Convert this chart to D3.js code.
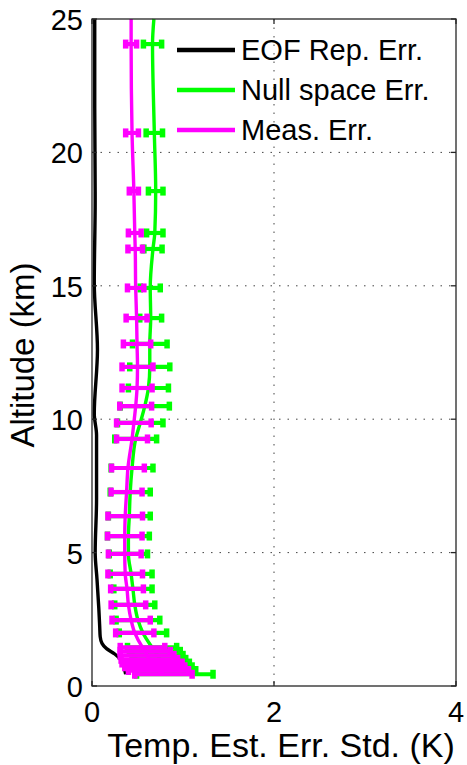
<!DOCTYPE html>
<html>
<head>
<meta charset="utf-8">
<script src="https://cdn.jsdelivr.net/npm/d3@7"></script>
<style>
  html, body { margin: 0; padding: 0; background: #fff; }
  svg { display: block; font-family: "Liberation Sans", Arial, sans-serif; }
</style>
</head>
<body>
<svg id="chart" width="467" height="765"></svg>
<script>
// Altitude levels (km) of the profile; the first one (25 km) carries no error bar
const levels = [25, 24.06, 20.73, 18.55, 16.98, 16.38, 14.92, 13.79, 12.82, 11.96, 11.17,
  10.49, 9.86, 9.26, 8.17, 7.27, 6.37, 5.62, 4.95, 4.20, 3.64, 3.04, 2.47, 1.99,
  1.45, 1.30, 1.15, 1.00, 0.86, 0.72, 0.58, 0.44];

// Null space error: mean std (K) and half-width of its spread
const nullErr = [0.68, 0.665, 0.685, 0.70, 0.69, 0.67, 0.64, 0.645, 0.635, 0.635, 0.62,
  0.58, 0.53, 0.48, 0.44, 0.42, 0.41, 0.40, 0.40, 0.43, 0.45, 0.47, 0.505, 0.56,
  0.66, 0.69, 0.72, 0.75, 0.78, 0.81, 0.85, 0.91];
const nullSpread = [null, 0.10, 0.09, 0.08, 0.09, 0.10, 0.11, 0.12, 0.19, 0.22, 0.22,
  0.27, 0.25, 0.23, 0.23, 0.22, 0.23, 0.23, 0.21, 0.23, 0.21, 0.22, 0.24, 0.26,
  0.27, 0.28, 0.28, 0.28, 0.29, 0.29, 0.29, 0.42];

// Measurement error: mean std (K) and half-width of its spread
const measErr = [0.43, 0.43, 0.44, 0.46, 0.47, 0.475, 0.48, 0.49, 0.495, 0.50, 0.495,
  0.48, 0.46, 0.44, 0.395, 0.38, 0.365, 0.36, 0.36, 0.365, 0.385, 0.40, 0.43, 0.47,
  0.555, 0.585, 0.605, 0.63, 0.66, 0.69, 0.73, 0.785];
const measSpread = [null, 0.06, 0.07, 0.05, 0.07, 0.08, 0.09, 0.115, 0.15, 0.17, 0.165,
  0.175, 0.19, 0.17, 0.18, 0.17, 0.19, 0.19, 0.18, 0.19, 0.18, 0.19, 0.21, 0.21,
  0.245, 0.275, 0.295, 0.31, 0.33, 0.33, 0.33, 0.315];

// EOF representation error profile
const eofAlt = [25, 22, 18.2, 15.1, 12.6, 10.2, 9.4, 7.0, 5.0, 4.0, 2.9, 2.2, 1.85, 1.6, 1.4, 1.2, 1.0, 0.8, 0.6, 0.44];
const eofErr = [0.03, 0.03, 0.035, 0.025, 0.06, 0.025, 0.05, 0.05, 0.035, 0.055, 0.075, 0.085, 0.09, 0.11, 0.16, 0.25, 0.31, 0.34, 0.36, 0.37];

const xTicks = [0, 2, 4];
const yTicks = [0, 5, 10, 15, 20, 25];
const legendLabels = ["EOF Rep. Err.", "Null space Err.", "Meas. Err."];
const colors = ["#000000", "#00ff00", "#ff00ff"];

const svg = d3.select("#chart");
const L = 92, R = 456, T = 19, B = 686;
const x = d3.scaleLinear().domain([0, 4]).range([L, R]);
const y = d3.scaleLinear().domain([0, 25]).range([B, T]);

// dotted grid
const grid = svg.append("g").attr("stroke", "#444").attr("stroke-width", 1)
  .attr("stroke-dasharray", "1.5,7");
yTicks.filter(v => v > 0 && v < 25).forEach(v => {
  grid.append("line").attr("x1", L).attr("x2", R).attr("y1", y(v)).attr("y2", y(v));
});
xTicks.filter(v => v > 0 && v < 4).forEach(v => {
  grid.append("line").attr("y1", T).attr("y2", B).attr("x1", x(v)).attr("x2", x(v));
});

const lineX = (alts, vals) => d3.line()
  .x((d, i) => x(vals[i])).y(d => y(d))
  .curve(d3.curveMonotoneY)(alts);

// EOF representation error
svg.append("path").attr("d", lineX(eofAlt, eofErr))
  .attr("fill", "none").attr("stroke", colors[0]).attr("stroke-width", 3.4);

function errorBars(vals, spread, color) {
  const g = svg.append("g").attr("stroke", color);
  levels.forEach((a, i) => {
    if (spread[i] == null) return;
    const x0 = x(vals[i] - spread[i]), x1 = x(vals[i] + spread[i]), yy = y(a);
    g.append("line").attr("x1", x0).attr("x2", x1).attr("y1", yy).attr("y2", yy)
      .attr("stroke-width", 4.2);
    [x0, x1].forEach(cx => {
      g.append("line").attr("x1", cx).attr("x2", cx).attr("y1", yy - 4.5).attr("y2", yy + 4.5)
        .attr("stroke-width", 5.5);
    });
  });
}

// Null space error
errorBars(nullErr, nullSpread, colors[1]);
svg.append("path").attr("d", lineX(levels, nullErr))
  .attr("fill", "none").attr("stroke", colors[1]).attr("stroke-width", 3.4);

// Measurement error
errorBars(measErr, measSpread, colors[2]);
svg.append("path").attr("d", lineX(levels, measErr))
  .attr("fill", "none").attr("stroke", colors[2]).attr("stroke-width", 3.4);

// axes box with inward ticks
const axisColor = "#262626";
svg.append("rect").attr("x", L).attr("y", T).attr("width", R - L).attr("height", B - T)
  .attr("fill", "none").attr("stroke", axisColor).attr("stroke-width", 1.3);
const tk = svg.append("g").attr("stroke", axisColor).attr("stroke-width", 1.3);
yTicks.forEach(v => {
  tk.append("line").attr("x1", L).attr("x2", L + 5).attr("y1", y(v)).attr("y2", y(v));
  tk.append("line").attr("x1", R).attr("x2", R - 5).attr("y1", y(v)).attr("y2", y(v));
});
xTicks.forEach(v => {
  tk.append("line").attr("x1", x(v)).attr("x2", x(v)).attr("y1", B).attr("y2", B - 5);
  tk.append("line").attr("x1", x(v)).attr("x2", x(v)).attr("y1", T).attr("y2", T + 5);
});

// tick labels
svg.append("g").selectAll("text").data(yTicks).join("text")
  .attr("x", 83).attr("y", d => y(d) + 11).attr("text-anchor", "end")
  .attr("font-size", 29).attr("fill", "#000").text(d => d);
svg.append("g").selectAll("text").data(xTicks).join("text")
  .attr("x", d => x(d)).attr("y", 722).attr("text-anchor", "middle")
  .attr("font-size", 29).attr("fill", "#000").text(d => d);

// axis titles
svg.append("text").attr("x", 281).attr("y", 757).attr("text-anchor", "middle")
  .attr("font-size", 34).attr("fill", "#000").text("Temp. Est. Err. Std. (K)");
svg.append("text").attr("transform", "translate(34,355) rotate(-90)")
  .attr("text-anchor", "middle").attr("font-size", 33).attr("fill", "#000")
  .text("Altitude (km)");

// legend
const leg = svg.append("g");
legendLabels.forEach((lab, i) => {
  const ly = 50 + i * 40;
  leg.append("line").attr("x1", 177).attr("x2", 235).attr("y1", ly).attr("y2", ly)
    .attr("stroke", colors[i]).attr("stroke-width", 4.5);
  leg.append("text").attr("x", 241).attr("y", ly + 10).attr("font-size", 29)
    .attr("fill", "#000").text(lab);
});
</script>
</body>
</html>
